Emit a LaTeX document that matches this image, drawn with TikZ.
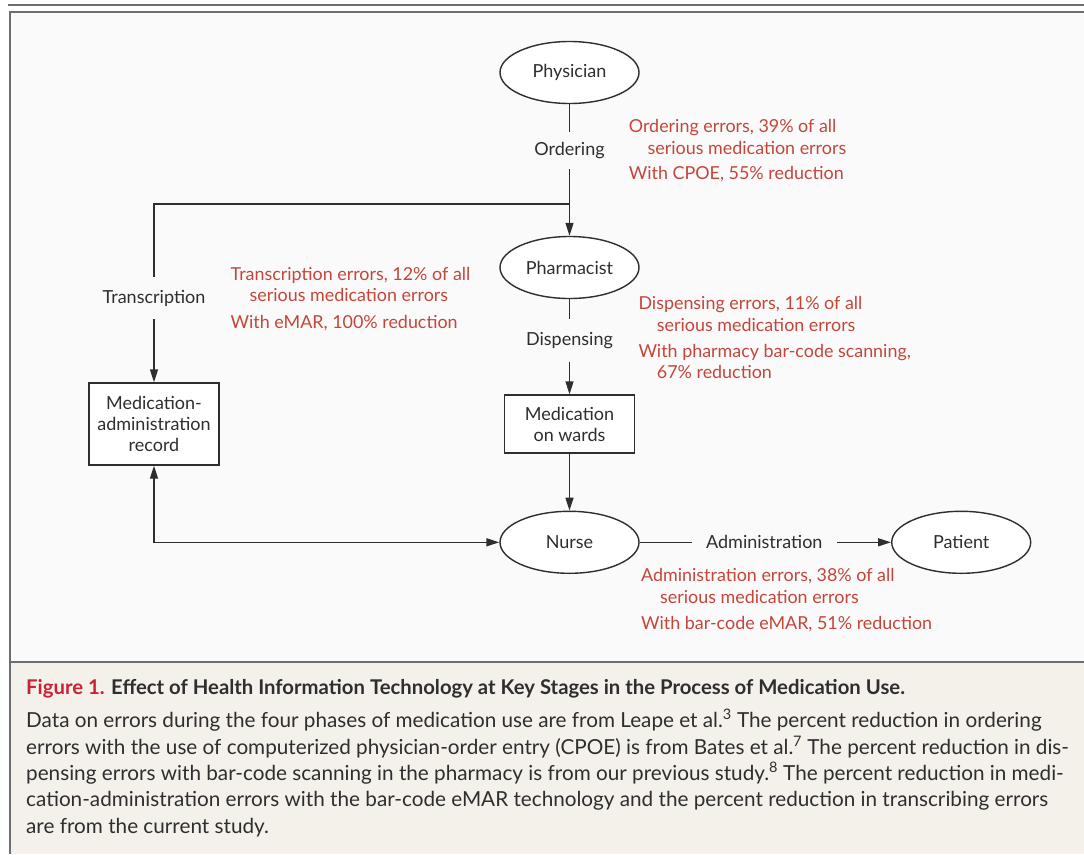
\documentclass[tikz,border=0pt]{standalone}
\usepackage{fontspec}
\setmainfont{Lato}
\usetikzlibrary{shapes.geometric,arrows.meta}
\definecolor{bgd}{HTML}{FAFAFA}
\definecolor{bgc}{HTML}{F4F1EA}
\definecolor{framec}{HTML}{6E6E6E}
\definecolor{ink}{HTML}{2E2E2E}
\definecolor{errred}{HTML}{C4463A}
\definecolor{figred}{HTML}{CC2233}
\newcommand{\blackfont}{\fontsize{18}{21}\selectfont}
\newcommand{\redfont}{\fontsize{17.9}{20}\selectfont}
\newcommand{\capfont}{\fontsize{20.7}{24}\selectfont}
\newcommand{\titlefont}{\fontsize{20.3}{24}\selectfont\bfseries}
\begin{document}
\begin{tikzpicture}[x=1pt,y=-1pt,
  ell/.style={ellipse, draw=ink, line width=1.4pt, fill=white, minimum width=139pt, minimum height=62pt, inner sep=0pt, font=\blackfont, text=ink},
  box/.style={rectangle, draw=ink, line width=1.4pt, fill=white, minimum width=130pt, inner sep=0pt, align=center, font=\blackfont, text=ink},
  lbl/.style={inner sep=0pt, font=\blackfont, text=ink},
  note/.style={anchor=base west, inner sep=0pt, font=\redfont, text=errred},
  captxt/.style={anchor=base west, inner sep=0pt, font=\capfont, text=ink},
  conn/.style={draw=ink, line width=1.4pt},
  arr/.style={conn, -{Triangle[length=13pt,width=8pt]}},
  darr/.style={conn, {Triangle[length=13pt,width=8pt]}-{Triangle[length=13pt,width=8pt]}},
]
\useasboundingbox (0,0) rectangle (1084,854);
\fill[white] (0,0) rectangle (1084,854);
\fill[bgd] (10,12) rectangle (1084,662);
\fill[bgc] (10,662) rectangle (1084,854);
\draw[framec, line width=1.8pt] (8,4.8) -- (1084,4.8);
\draw[framec, line width=2pt] (10,854) -- (10,12) -- (1084,12);
\draw[framec, line width=1.5pt] (10,662) -- (1084,662);

% nodes
\node[ell] (physician) at (569.5,72.5) {Physician};
\node[lbl, minimum height=37pt] (ordering) at (569.5,150.5) {Ordering};
\node[ell] (pharmacist) at (569.5,267.5) {Pharmacist};
\node[lbl, minimum height=42pt] (dispensing) at (569.5,340.5) {Dispensing};
\node[box, minimum height=58pt] (wards) at (569.5,424) {Medication\\on wards};
\node[ell] (nurse) at (569.5,542.3) {Nurse};
\node[ell] (patient) at (961.2,542.3) {Patient};
\node[lbl, minimum width=145pt, minimum height=20pt] (admin) at (764.3,542.3) {Administration};
\node[box, minimum height=82pt] (mar) at (154,424) {Medication-\\administration\\record};
\node[lbl, minimum height=42pt] (transcription) at (154,298) {Transcription};
\coordinate (j) at (569.5,204);
\coordinate (jl) at (154,204);

% connectors
\draw[conn] (physician.south) -- (ordering.north);
\draw[arr] (ordering.south) -- (pharmacist.north);
\draw[conn] (j) -- (jl) -- (transcription.north);
\draw[arr] (transcription.south) -- (mar.north);
\draw[conn] (pharmacist.south) -- (dispensing.north);
\draw[arr] (dispensing.south) -- (wards.north);
\draw[arr] (wards.south) -- (nurse.north);
\draw[conn] (nurse.east) -- (admin.west);
\draw[arr] (admin.east) -- (patient.west);
\draw[darr] (mar.south) |- (nurse.west);

% red notes
\node[note] (n1a) at (628.7,132.3) {Ordering errors, 39\% of all};
\node[note] (n1b) at (647.5,154) {serious medication errors};
\node[note] (n1c) at (628.7,179.3) {With CPOE, 55\% reduction};
\node[note] (n2a) at (230.5,280.3) {Transcription errors, 12\% of all};
\node[note] (n2b) at (249.4,301.3) {serious medication errors};
\node[note] (n2c) at (230.5,328) {With eMAR, 100\% reduction};
\node[note] (n3a) at (638.3,309) {Dispensing errors, 11\% of all};
\node[note] (n3b) at (656.7,331) {serious medication errors};
\node[note] (n3c) at (638.3,357.3) {With pharmacy bar-code scanning,};
\node[note] (n3d) at (656.7,378.7) {67\% reduction};
\node[note] (n4a) at (641,581.7) {Administration errors, 38\% of all};
\node[note] (n4b) at (660,603) {serious medication errors};
\node[note] (n4c) at (641,629) {With bar-code eMAR, 51\% reduction};

% caption
\node[captxt, font=\titlefont] (title) at (26,694) {\textcolor{figred}{Figure 1.} Effect of Health Information Technology at Key Stages in the Process of Medication Use.};
\node[captxt] (c1) at (26,727.3) {Data on errors during the four phases of medication use are from Leape et al.\textsuperscript{3} The percent reduction in ordering};
\node[captxt] (c2) at (26,754) {errors with the use of computerized physician-order entry (CPOE) is from Bates et al.\textsuperscript{7} The percent reduction in dis-};
\node[captxt] (c3) at (26,780.3) {pensing errors with bar-code scanning in the pharmacy is from our previous study.\textsuperscript{8} The percent reduction in medi-};
\node[captxt] (c4) at (26,806.7) {cation-administration errors with the bar-code eMAR technology and the percent reduction in transcribing errors};
\node[captxt] (c5) at (26,833.3) {are from the current study.};
\end{tikzpicture}
\end{document}
